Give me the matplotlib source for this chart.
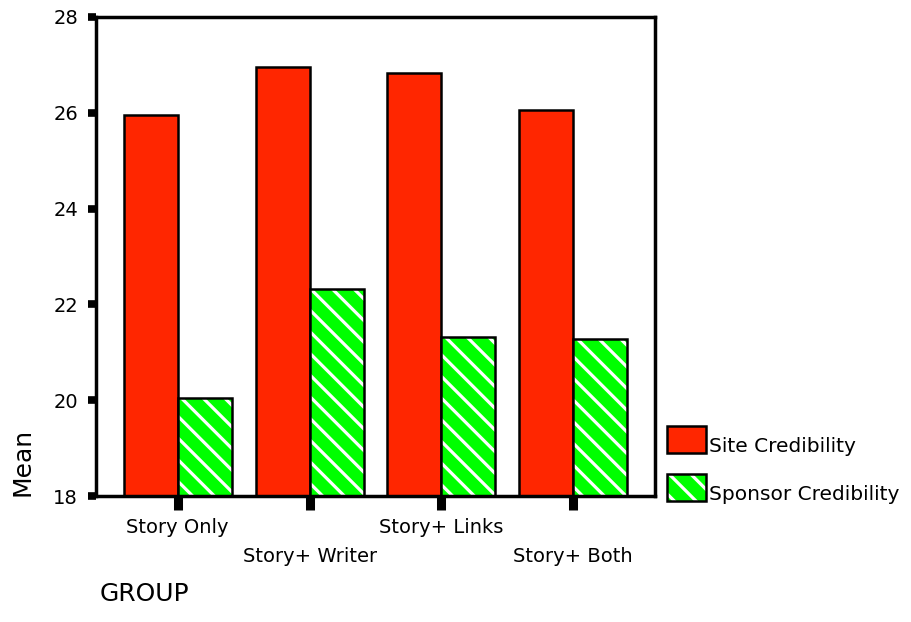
import matplotlib
matplotlib.use("Agg")
import matplotlib.pyplot as plt
import numpy as np
from matplotlib.legend_handler import HandlerTuple, HandlerPatch
from matplotlib.patches import Rectangle

groups = ["Story Only", "Story+ Writer", "Story+ Links", "Story+ Both"]
site_cred = [25.96, 26.96, 26.84, 26.06]
sponsor_cred = [20.05, 22.33, 21.32, 21.28]
series_names = ["Site Credibility", "Sponsor Credibility"]
yticks = [18, 20, 22, 24, 26, 28]

DPI = 130
S = 100.0 / DPI  # keep pixel sizes as at 100 dpi

plt.rcParams['font.family'] = ['DejaVu Sans']
plt.rcParams['hatch.color'] = 'white'
plt.rcParams['hatch.linewidth'] = 2.3 * S

RED = '#FF2600'
GREEN = '#00FF00'

fig = plt.figure(figsize=(911 / DPI, 622 / DPI), dpi=DPI)
ax = fig.add_axes([96/911, 1-496/622, (655-96)/911, (496-17)/622])

x = np.arange(len(groups))
w = 0.41
b1 = ax.bar(x - w/2, np.array(site_cred) - 18, w, bottom=18, color=RED,
            edgecolor='black', linewidth=1.8 * S, zorder=2)
b2 = ax.bar(x + w/2, np.array(sponsor_cred) - 18, w, bottom=18, color=GREEN,
            linewidth=0, hatch='\\\\', zorder=2)
b2o = ax.bar(x + w/2, np.array(sponsor_cred) - 18, w, bottom=18, fill=False,
             edgecolor='black', linewidth=1.8 * S, zorder=3)

ax.set_xlim(-0.62, 3.62)
ax.set_ylim(18, 28)
ax.set_yticks(yticks)
ax.set_yticklabels([str(t) for t in yticks], fontsize=14 * S)
ax.set_xticks(x)
ax.set_xticklabels(groups, fontsize=14 * S)
for i, lab in enumerate(ax.get_xticklabels()):
    if i % 2 == 1:
        lab.set_y(-28.4 / 479)
for s in ax.spines.values():
    s.set_linewidth(2.5 * S)
ax.tick_params(axis='y', direction='out', length=6 * S, width=5.5 * S, color='black', pad=7 * S)
ax.tick_params(axis='x', direction='out', length=10 * S, width=6.5 * S, color='black', pad=6 * S)

fig.text(23/911, 1-462/622, "Mean", rotation=90, fontsize=18 * S, ha='center', va='center')
fig.text(100/911, 1-594/622, "GROUP", fontsize=18 * S, ha='left', va='center')


def shifted_rect(legend, orig_handle, xdescent, ydescent, width, height, fontsize):
    # bottom of swatch sits just below the text baseline
    return Rectangle((-xdescent, -0.05 * fontsize), width, height)


rect_handler = HandlerPatch(patch_func=shifted_rect)
handles = [b1.patches[0], (b2.patches[0], b2o.patches[0])]
leg_fs = 14.5 * S
leg = fig.legend(handles, series_names, loc='upper left',
                 bbox_to_anchor=(667/911, 1-432/622), frameon=False,
                 handler_map={tuple: HandlerTuple(ndivide=1, pad=0),
                              Rectangle: rect_handler},
                 handlelength=1.94, handleheight=1.69, handletextpad=0.15,
                 labelspacing=1.05, fontsize=leg_fs, borderaxespad=0, borderpad=0)

fig.savefig("out.png", dpi=DPI)
